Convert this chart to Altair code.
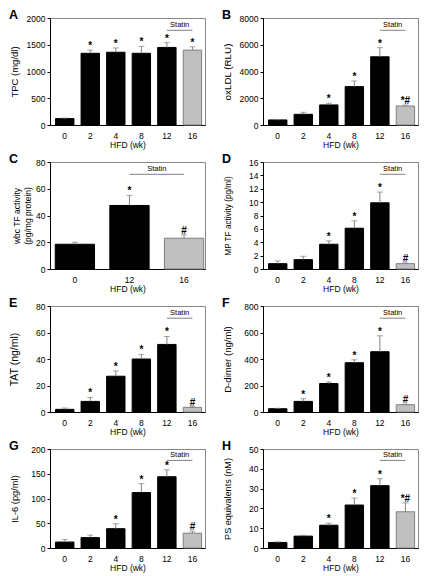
import altair as alt
import pandas as pd

weeks6 = ["0", "2", "4", "8", "12", "16"]
weeks3 = ["0", "12", "16"]

tpc_mean = [120, 1340, 1360, 1340, 1450, 1400]
tpc_err = [10, 60, 80, 130, 90, 60]
tpc_sig = ["", "*", "*", "*", "*", "*"]

oxldl_mean = [380, 800, 1500, 2870, 5100, 1420]
oxldl_err = [20, 150, 130, 420, 680, 70]
oxldl_sig = ["", "", "*", "*", "*", "*#"]

wbc_mean = [18.5, 47.5, 23]
wbc_err = [1.5, 7.5, 2.5]
wbc_sig = ["", "*", "#"]

mp_mean = [0.8, 1.4, 3.7, 6.1, 9.9, 0.8]
mp_err = [0.4, 0.5, 0.5, 1.1, 1.6, 0.1]
mp_sig = ["", "", "*", "*", "*", "#"]

tat_mean = [2, 8, 27, 40, 51, 3.5]
tat_err = [1, 3, 4, 3.5, 6, 0.5]
tat_sig = ["", "*", "*", "*", "*", "#"]

dd_mean = [25, 80, 215, 372, 455, 55]
dd_err = [3, 20, 12, 22, 120, 5]
dd_sig = ["", "*", "*", "*", "*", "#"]

il6_mean = [12, 21, 39, 112, 144, 30]
il6_err = [5, 5, 10, 18, 14, 4]
il6_sig = ["", "", "*", "*", "*", "#"]

ps_mean = [2.8, 6.0, 11.5, 21.7, 31.5, 18.3]
ps_err = [0.3, 0.4, 1.0, 3.5, 3.5, 4.5]
ps_sig = ["", "", "*", "*", "*", "*#"]

W = 155
FONT = "Liberation Sans"


def panel(letter, ytitle, weeks, means, errs, sigs, ymax, ystep, height,
          po, align, titlex, tfs):
    n = len(weeks)
    df = pd.DataFrame({
        "wk": weeks,
        "mean": means,
        "top": [m + e for m, e in zip(means, errs)],
        "sig": sigs,
        "group": ["HFD"] * (n - 1) + ["Statin"],
    })
    pi = 0.28
    step = W / (n - pi + 2 * po)
    xscale = alt.Scale(domain=weeks, paddingInner=pi, paddingOuter=po, align=align)
    yscale = alt.Scale(domain=[0, ymax], nice=False, zero=True)
    xaxis = alt.Axis(labelAngle=0, ticks=False, labelFontSize=8.5,
                     labelPadding=6, titleFontSize=8.5, titleFontWeight="normal",
                     titlePadding=1, domainColor="#000", labelColor="#000",
                     titleColor="#000")
    yaxis = alt.Axis(values=list(range(0, ymax + 1, ystep)), grid=False,
                     format="d", labelOverlap=False, labelFlush=False,
                     tickSize=3, tickColor="#000", labelFontSize=8.5,
                     labelPadding=2, titleFontSize=tfs, titleFontWeight="normal",
                     titleX=titlex, titleY=height / 2, titleAngle=270,
                     titleBaseline="bottom", titleLineHeight=11,
                     domainColor="#000", labelColor="#000", titleColor="#000")

    def X(field):
        return alt.X(field, scale=xscale, title="HFD (wk)", axis=xaxis)

    def Y(field):
        return alt.Y(field, scale=yscale, title=ytitle, axis=yaxis)

    base = alt.Chart(df)
    bars = base.mark_bar(strokeWidth=1).encode(
        x=X("wk:N"), y=Y("mean:Q"),
        fill=alt.Fill("group:N", scale=alt.Scale(domain=["HFD", "Statin"],
                      range=["#000000", "#c0c0c0"]), legend=None),
        stroke=alt.Stroke("group:N", scale=alt.Scale(domain=["HFD", "Statin"],
                          range=["#000000", "#808080"]), legend=None),
    )
    err = base.mark_rule(color="#808080", strokeWidth=1).encode(
        x=X("wk:N"), y=Y("mean:Q"), y2="top:Q")
    cap = base.mark_tick(color="#808080", size=6, thickness=1).encode(
        x=X("wk:N"), y=Y("top:Q"))
    sig = base.mark_text(fontSize=10, fontWeight="bold", baseline="alphabetic",
                         dy=-1, color="#000").encode(
        x=X("wk:N"), y=Y("top:Q"), text="sig:N")
    sdf = pd.DataFrame({"a": ["12"], "b": ["16"], "y": [ymax * 0.885],
                        "label": ["Statin"]})
    sline = alt.Chart(sdf).mark_rule(color="#808080", strokeWidth=1).encode(
        x=X("a:N"), x2="b:N", y=Y("y:Q"))
    stext = alt.Chart(sdf).mark_text(fontSize=7.5, baseline="bottom", dy=-1,
                                     dx=step / 2, color="#000").encode(
        x=X("a:N"), y=Y("y:Q"), text="label:N")
    ldf = pd.DataFrame({"letter": [letter]})
    lab = alt.Chart(ldf).mark_text(fontSize=12.5, fontWeight="bold", align="left",
                                   baseline="alphabetic", color="#000").encode(
        x=alt.value(-41), y=alt.value(1), text="letter:N")
    return alt.layer(bars, err, cap, sig, sline, stext, lab).properties(
        width=W, height=height)


panels = [
    panel("A", "TPC (mg/dl)", weeks6, tpc_mean, tpc_err, tpc_sig, 2000, 500, 107, 0.175, 0.62, -31, 9.5),
    panel("B", "oxLDL (RLU)", weeks6, oxldl_mean, oxldl_err, oxldl_sig, 8000, 2000, 107, 0.175, 0.62, -31, 9.8),
    panel("C", ["wbc TF activity", "(pg/mg protein)"], weeks3, wbc_mean, wbc_err, wbc_sig, 80, 20, 107, 0.06, 0.8, -29, 8.5),
    panel("D", "MP TF activity (pg/ml)", weeks6, mp_mean, mp_err, mp_sig, 16, 2, 107, 0.175, 0.62, -31, 8.2),
    panel("E", "TAT (ng/ml)", weeks6, tat_mean, tat_err, tat_sig, 80, 20, 106, 0.175, 0.62, -31, 10.5),
    panel("F", "D-dimer (ng/ml)", weeks6, dd_mean, dd_err, dd_sig, 800, 200, 106, 0.175, 0.62, -31, 9.6),
    panel("G", "IL-6 (pg/ml)", weeks6, il6_mean, il6_err, il6_sig, 200, 50, 99, 0.175, 0.62, -31, 9.3),
    panel("H", "PS equivalents (nM)", weeks6, ps_mean, ps_err, ps_sig, 50, 10, 99, 0.175, 0.62, -31, 9.1),
]

chart = alt.concat(*panels, columns=2, spacing={"row": 2, "column": 15}).properties(
    padding=0
).configure(font=FONT).configure_view(stroke="#888888", strokeWidth=1)

chart.save("out.html", embed_options={"renderer": "svg", "actions": False})
